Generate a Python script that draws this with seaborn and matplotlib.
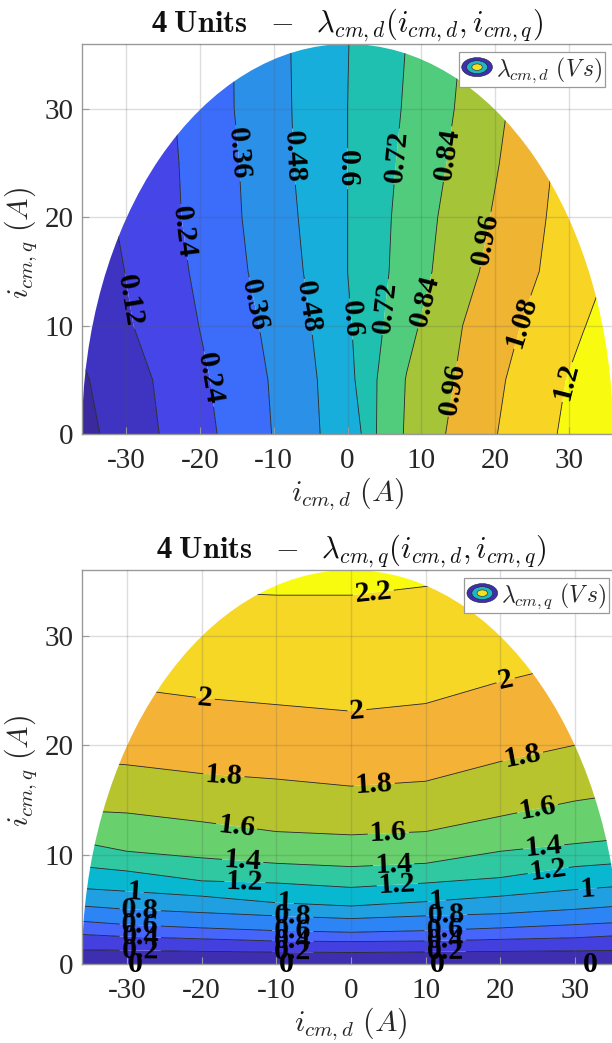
import numpy as np
import matplotlib
matplotlib.use("Agg")
import matplotlib.pyplot as plt
from matplotlib.patches import Circle, Ellipse, Patch
from matplotlib.legend_handler import HandlerBase
import seaborn as sns

# ---------- data ----------
x_ticks = [-30, -20, -10, 0, 10, 20, 30]
y_ticks = [0, 10, 20, 30]
current_limit = 36

# Panel 1: flux-linkage d values on an (iq, id) grid
d_id = [-36, -30, -24, -18, -12, -6, 0, 2, 4, 8, 14, 20, 26, 32, 36]
d_iq = [0, 5, 10, 15, 20, 25, 30, 36]
d_row_00 = [-.036, .053, .143, .235, .331, .433, .556, .603, .724, .854, .974, 1.075, 1.164, 1.253, 1.312]
d_row_05 = [-.014, .068, .155, .250, .340, .439, .568, .631, .720, .845, .951, 1.058, 1.149, 1.234, 1.292]
d_row_10 = [.027, .107, .187, .270, .360, .457, .584, .638, .697, .805, .934, 1.031, 1.117, 1.196, 1.249]
d_row_15 = [.042, .123, .204, .290, .383, .480, .600, .643, .686, .769, .892, .997, 1.080, 1.160, 1.213]
d_row_20 = [.061, .140, .219, .304, .395, .491, .600, .640, .681, .761, .873, .971, 1.065, 1.160, 1.224]
d_row_25 = [.077, .151, .225, .303, .406, .501, .600, .637, .674, .746, .850, .950, 1.051, 1.153, 1.220]
d_row_30 = [.080, .142, .231, .320, .411, .504, .600, .633, .666, .732, .832, .933, 1.034, 1.120, 1.180]
d_row_36 = [.060, .150, .235, .321, .414, .506, .597, .628, .659, .722, .819, .918, 1.020, 1.110, 1.170]
d_levels = [0, .12, .24, .36, .48, .6, .72, .84, .96, 1.08, 1.2]
d_colors = ["#3b2a9e", "#3f33c2", "#4646e8", "#3b6cfa", "#2b90e8", "#17aedb",
            "#20c0b0", "#50cc7c", "#a5c438", "#eeb432", "#f8d425", "#f8fb10"]

# Panel 2: iq at which the flux-linkage q reaches each value, per id column
q_id = [-36, -30, -20, -10, 0, 10, 20, 30, 36]
q_levels = [0, .2, .4, .6, .8, 1, 1.2, 1.4, 1.6, 1.8, 2, 2.2]
q_iq_below = [-2, -2, -2, -2, -2, -2, -2, -2, -2]
q_iq_00 = [0, 0, 0, 0, 0, 0, 0, 0, 0]
q_iq_02 = [1.3, 1.25, 1.15, 1.1, 1.05, 1.1, 1.15, 1.2, 1.25]
q_iq_04 = [2.7, 2.5, 2.3, 2.1, 2.05, 2.1, 2.25, 2.4, 2.6]
q_iq_06 = [3.9, 3.6, 3.3, 3.05, 2.9, 3.05, 3.3, 3.6, 3.8]
q_iq_08 = [5.3, 5.0, 4.7, 4.4, 4.15, 4.4, 4.6, 5.0, 5.3]
q_iq_10 = [6.9, 6.65, 6.2, 5.6, 5.3, 5.7, 6.2, 6.8, 7.1]
q_iq_12 = [8.9, 8.5, 7.6, 7.4, 7.0, 7.4, 7.9, 8.9, 9.2]
q_iq_14 = [11.1, 10.3, 9.7, 9.2, 8.9, 9.2, 10.3, 11.0, 11.4]
q_iq_16 = [14.0, 13.8, 13.0, 12.1, 11.8, 12.1, 13.5, 14.9, 15.5]
q_iq_18 = [18.5, 18.2, 17.4, 16.9, 16.25, 16.7, 18.5, 20.0, 20.8]
q_iq_20 = [25.5, 25.2, 24.3, 23.7, 23.1, 23.8, 25.8, 27.5, 28.0]
q_iq_22 = [34.0, 34.0, 34.0, 33.7, 33.7, 34.5, 35.5, 36.0, 36.0]
q_iq_above = [40, 40, 40, 40, 40, 40, 40, 40, 40]
q_colors = ["#3b2a9e", "#3d2fb0", "#4440e0", "#4565fb", "#2d84f5", "#20a0e0", "#08b8d0",
            "#30c8a0", "#68d06c", "#b8c42e", "#f4b336", "#f6d725", "#f9fb0e"]

# Label anchor points (level: [(id, iq), ...])
d_labels = {
    .12: [(-29.4, 12.3)],
    .24: [(-22.7, 18.6), (-18.7, 5.1)],
    .36: [(-15, 25.9), (-12.8, 11.9)],
    .48: [(-7.5, 25.6), (-5.7, 11.7)],
    .6: [(0, 24.5), (.4, 10.6)],
    .72: [(6.8, 25.6), (5.2, 11.7)],
    .84: [(14, 25.8), (10.2, 12.3)],
    .96: [(19.3, 17.9), (14, 4.2)],
    1.08: [(23.8, 10.3)],
    1.2: [(29.9, 4.8)],
}
q_labels = {
    0: [(-28.8, 0), (-8.7, 0), (11.5, 0), (32, 0)],
    .2: [(-28.2, 1.2), (-7.8, 1.1), (12.6, 1.1)],
    .4: [(-28.2, 2.4), (-7.8, 2.1), (12.6, 2.15)],
    .6: [(-28.2, 3.55), (-7.8, 3.05), (12.6, 3.1)],
    .8: [(-28.2, 4.9), (-7.8, 4.4), (12.8, 4.4)],
    1: [(-29, 6.6), (-8.9, 5.6), (11.5, 5.7), (31.7, 6.8)],
    1.2: [(-14.2, 7.4), (6.2, 7.2), (26.4, 8.5)],
    1.4: [(-14.5, 9.4), (5.7, 9.0), (25.8, 10.5)],
    1.6: [(-15.3, 12.6), (5, 11.9), (25, 14)],
    1.8: [(-17, 17.3), (3.1, 16.4), (23, 18.9)],
    2: [(-19.5, 24.3), (.8, 23.1), (20.7, 25.9)],
    2.2: [(3, 33.8)],
}

title_d = r"4 $\mathbf{Units}\ \ -\ \ \lambda_{cm,d}(i_{cm,d},i_{cm,q})$"
title_q = r"4 $\mathbf{Units}\ \ -\ \ \lambda_{cm,q}(i_{cm,d},i_{cm,q})$"
x_label = r"$i_{cm,d}\ (A)$"
y_label = r"$i_{cm,q}\ (A)$"
legend_d = r"$\lambda_{cm,d}\ (V\,s)$"
legend_q = r"$\lambda_{cm,q}\ (V\,s)$"

# ---------- style ----------
sns.set_theme(style="ticks", font="Liberation Serif")
plt.rcParams["mathtext.fontset"] = "cm"
plt.rcParams["axes.unicode_minus"] = False

W, H = 612, 1043
fig = plt.figure(figsize=(W / 100, H / 100), dpi=100)


def rect(l, t, r, b):
    return [l / W, 1 - b / H, (r - l) / W, (b - t) / H]


class RingHandler(HandlerBase):
    def create_artists(self, legend, orig, xd, yd, w, h, fs, trans):
        cx, cy = w / 2 - xd, h / 2 - yd
        out = []
        for frac, col in [(1, "#3d2fb0"), (.68, "#20b8c0"), (.34, "#f8e020")]:
            out.append(Ellipse((cx, cy), w * frac, h * 1.15 * frac, facecolor=col,
                               edgecolor="#222222", linewidth=.4, transform=trans))
        return out


def dress(ax, legend_text, anchor):
    ax.set_xlim(-current_limit, current_limit)
    ax.set_ylim(0, current_limit)
    ax.set_xticks(x_ticks)
    ax.set_xticklabels([str(v) for v in x_ticks])
    ax.set_yticks(y_ticks)
    ax.set_axisbelow(False)
    ax.grid(True, color="#555555", alpha=.2, linewidth=1.0)
    ax.tick_params(axis="x", direction="in", length=5, width=.8, color="#999999",
                   labelsize=21, labelcolor="#262626", pad=10)
    ax.tick_params(axis="y", direction="in", length=5, width=.8, color="#999999",
                   labelsize=21, labelcolor="#262626", pad=6)
    for s in ax.spines.values():
        s.set_color("#9a9a9a")
        s.set_linewidth(1.0)
    ax.set_xlabel(x_label, fontsize=21.5, color="#262626", labelpad=1)
    ax.set_ylabel(y_label, fontsize=21.5, color="#262626", labelpad=0)
    ax.yaxis.set_label_coords((39 - 82) / ax.bbox.width, .49)
    leg = ax.legend([Patch()], [legend_text], handler_map={Patch: RingHandler()},
                    loc="upper right", bbox_to_anchor=anchor, bbox_transform=fig.transFigure,
                    borderaxespad=0, fontsize=17, fancybox=False, framealpha=1,
                    edgecolor="#9a9a9a", handlelength=1.3, handletextpad=.15,
                    borderpad=.12)
    leg.get_frame().set_linewidth(.9)
    leg.set_zorder(10)


def add_lines(ax, X, Y, Z, levels, table):
    """One contour set per level, so each label lands on its own line."""
    circle = Circle((0, 0), current_limit, transform=ax.transData)
    for level in levels:
        cs = ax.contour(X, Y, Z, levels=[level], colors="#222222", linewidths=.6, zorder=2)
        cs.set_clip_path(circle)
        if level in table:
            cs.clabel(manual=table[level], inline=True, inline_spacing=2,
                      fontsize=21.5, fmt=lambda v: f"{v:g}", colors="black")
            for t in cs.labelTexts:
                t.set_clip_on(False)
                t.set_fontweight("bold")
                t.set_family("Liberation Serif")


def add_title(ax, text):
    ax.set_title(text, fontsize=22, fontweight="bold", family="Liberation Serif",
                 color="#111111", pad=7)


# ---------- panel 1 ----------
ax1 = fig.add_axes(rect(82, 44, 613, 434))
Z1 = np.array([d_row_00, d_row_05, d_row_10, d_row_15, d_row_20, d_row_25, d_row_30, d_row_36])
fill_levels1 = [-.2] + d_levels + [1.6]
cf1 = ax1.contourf(d_id, d_iq, Z1, levels=fill_levels1,
                   colors=sns.color_palette(d_colors), zorder=1, antialiased=True)
cf1.set_clip_path(Circle((0, 0), current_limit, transform=ax1.transData))
add_lines(ax1, d_id, d_iq, Z1, d_levels, d_labels)
dress(ax1, legend_d, (605 / W, 1 - 52 / H))
add_title(ax1, title_d)

# ---------- panel 2 ----------
ax2 = fig.add_axes(rect(82, 570, 620, 964))
Y2 = np.array([q_iq_below, q_iq_00, q_iq_02, q_iq_04, q_iq_06, q_iq_08, q_iq_10, q_iq_12,
               q_iq_14, q_iq_16, q_iq_18, q_iq_20, q_iq_22, q_iq_above])
X2 = np.tile(np.array(q_id, dtype=float), (Y2.shape[0], 1))
rows2 = [-.2] + q_levels + [2.4]
Z2 = np.tile(np.array(rows2)[:, None], (1, len(q_id)))
fill_levels2 = [-.5] + q_levels + [3]
cf2 = ax2.contourf(X2, Y2, Z2, levels=fill_levels2,
                   colors=sns.color_palette(q_colors), zorder=1, antialiased=True)
cf2.set_clip_path(Circle((0, 0), current_limit, transform=ax2.transData))
add_lines(ax2, X2, Y2, Z2, q_levels, q_labels)
dress(ax2, legend_q, (609 / W, 1 - 578 / H))
add_title(ax2, title_q)

fig.savefig("out.png", dpi=100)
